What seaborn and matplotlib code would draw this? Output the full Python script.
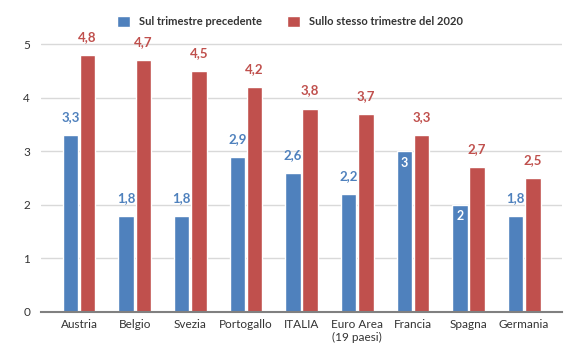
import pandas as pd
import matplotlib.pyplot as plt
import seaborn as sns
from matplotlib.patches import Patch

paesi = ['Austria', 'Belgio', 'Svezia', 'Portogallo', 'ITALIA', 'Euro Area\n(19 paesi)',
         'Francia', 'Spagna', 'Germania']
precedente = [3.3, 1.8, 1.8, 2.9, 2.6, 2.2, 3.0, 2.0, 1.8]
stesso_2020 = [4.8, 4.7, 4.5, 4.2, 3.8, 3.7, 3.3, 2.7, 2.5]
serie = ['Sul trimestre precedente', 'Sullo stesso trimestre del 2020']
etichette_dentro = ['Francia', 'Spagna']

blue = '#4f81bd'
red = '#c0504d'

df = pd.DataFrame({
    'paese': paesi * 2,
    'valore': precedente + stesso_2020,
    'serie': [serie[0]] * len(paesi) + [serie[1]] * len(paesi),
})

sns.set_style('white')
plt.rcParams['font.family'] = ['Lato', 'DejaVu Sans']

fig = plt.figure(figsize=(5.8, 3.59), dpi=100)
ax = fig.add_axes([0.071, 0.131, 0.898, 0.79])
sns.barplot(data=df, x='paese', y='valore', hue='serie', palette=[blue, red],
            saturation=1, width=0.62, gap=0.1, ax=ax, legend=False, zorder=3)

ax.set_xlim(-0.68, len(paesi) - 1 + 0.68)
ax.set_ylim(0, 5.3)
ax.set_yticks([0, 1, 2, 3, 4, 5])
ax.grid(axis='y', color='#d9d9d9', linewidth=1, zorder=0)
for s in ['top', 'right', 'left']:
    ax.spines[s].set_visible(False)
ax.spines['bottom'].set_color('#808080')
ax.spines['bottom'].set_linewidth(1.5)
ax.spines['bottom'].set_zorder(4)
ax.tick_params(axis='both', length=0, labelsize=8.5, colors='#333333', pad=5)
ax.tick_params(axis='y', pad=8)
ax.set_xlabel('')
ax.set_ylabel('')

for container, col in zip(ax.containers, [blue, red]):
    for bar, paese in zip(container, paesi):
        v = bar.get_height()
        testo = f'{v:g}'.replace('.', ',')
        x = bar.get_x() + bar.get_width() / 2
        if col == blue and paese in etichette_dentro:
            ax.annotate(testo, (x, v), xytext=(0, -8), textcoords='offset points',
                        ha='center', va='center', color='white', fontsize=9, fontweight='bold')
        else:
            ax.annotate(testo, (x, v), xytext=(0, 13), textcoords='offset points',
                        ha='center', va='center', color=col, fontsize=9.5, fontweight='bold')

handles = [Patch(facecolor=blue, label=serie[0]), Patch(facecolor=red, label=serie[1])]
fig.legend(handles=handles, loc='center', bbox_to_anchor=(0.5, 0.94), ncol=2, frameon=False,
           handlelength=1.2, handleheight=1.2, columnspacing=2.2, handletextpad=0.8,
           prop={'size': 8, 'weight': 'bold'}, labelcolor='#333333')

fig.savefig('out.png', dpi=100)
